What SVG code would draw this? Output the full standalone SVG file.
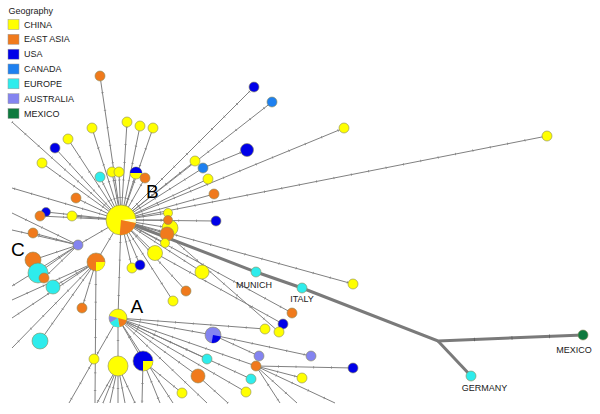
<svg xmlns="http://www.w3.org/2000/svg" xmlns:xlink="http://www.w3.org/1999/xlink" width="600" height="414" viewBox="0 0 600 414">
<style>
text{font-family:"Liberation Sans",Arial,sans-serif;fill:#1a1a1a}
.lg{font-size:9px}
.lbl{font-size:9px}
.big{font-size:19px;fill:#000}
circle{stroke:#8a8a5a;stroke-width:0.6}
.y{fill:#ffff00}
.o{fill:#f07a1c}
.u{fill:#0000e8}
.c{fill:#1e80f0}
.e{fill:#2eecec}
.a{fill:#8484f0}
.m{fill:#0e7a3e}
.sq{stroke:#999;stroke-width:0.5}
.w{stroke:none}
</style>
<rect width="600" height="414" fill="#fff"/>
<g id="legend">
<text class="lg" x="8.5" y="13.5">Geography</text>
<rect class="sq y" x="8" y="19.5" width="11" height="10"/><text class="lg" x="24" y="27.5">CHINA</text>
<rect class="sq o" x="8" y="34.3" width="11" height="10"/><text class="lg" x="24" y="42.3">EAST ASIA</text>
<rect class="sq u" x="8" y="49.2" width="11" height="10"/><text class="lg" x="24" y="57.2">USA</text>
<rect class="sq c" x="8" y="64" width="11" height="10"/><text class="lg" x="24" y="72">CANADA</text>
<rect class="sq e" x="8" y="78.8" width="11" height="10"/><text class="lg" x="24" y="86.8">EUROPE</text>
<rect class="sq a" x="8" y="93.7" width="11" height="10"/><text class="lg" x="24" y="101.7">AUSTRALIA</text>
<rect class="sq m" x="8" y="108.5" width="11" height="10"/><text class="lg" x="24" y="116.5">MEXICO</text>
</g>
<g id="connectors" stroke="#808080" stroke-width="1" fill="none">
<g id="E">
<line x1="121" y1="220" x2="100" y2="76"/>
<line x1="121" y1="220" x2="92" y2="128"/>
<line x1="121" y1="220" x2="68" y2="139"/>
<line x1="121" y1="220" x2="127" y2="122"/>
<line x1="121" y1="220" x2="140" y2="126"/>
<line x1="121" y1="220" x2="153" y2="128"/>
<line x1="121" y1="220" x2="42" y2="163"/>
<line x1="121" y1="220" x2="55" y2="148"/>
<line x1="121" y1="220" x2="100" y2="177"/>
<line x1="121" y1="220" x2="112" y2="172"/>
<line x1="121" y1="220" x2="119" y2="172"/>
<line x1="121" y1="220" x2="136" y2="173"/>
<line x1="121" y1="220" x2="145" y2="178"/>
<line x1="121" y1="220" x2="12" y2="122"/>
<line x1="121" y1="220" x2="12" y2="188"/>
<line x1="121" y1="220" x2="76" y2="198"/>
<line x1="121" y1="220" x2="46" y2="212"/>
<line x1="121" y1="220" x2="40" y2="216"/>
<line x1="121" y1="220" x2="72" y2="216"/>
<line x1="121" y1="220" x2="78" y2="245"/>
<line x1="121" y1="220" x2="96" y2="262"/>
<line x1="121" y1="220" x2="132" y2="268"/>
<line x1="121" y1="220" x2="140" y2="265"/>
<line x1="121" y1="220" x2="155" y2="253"/>
<line x1="121" y1="220" x2="186" y2="291"/>
<line x1="121" y1="220" x2="173" y2="301"/>
<line x1="121" y1="220" x2="118" y2="318"/>
<line x1="121" y1="220" x2="168" y2="213"/>
<line x1="121" y1="220" x2="168" y2="220"/>
<line x1="121" y1="220" x2="170" y2="228"/>
<line x1="121" y1="220" x2="167" y2="234"/>
<line x1="121" y1="220" x2="165" y2="243"/>
<line x1="121" y1="220" x2="195" y2="161"/>
<line x1="121" y1="220" x2="203" y2="168"/>
<line x1="121" y1="220" x2="208" y2="179"/>
<line x1="121" y1="220" x2="214" y2="194"/>
<line x1="121" y1="220" x2="216" y2="221"/>
<line x1="203" y1="168" x2="247" y2="150"/>
<line x1="121" y1="220" x2="254" y2="87"/>
<line x1="121" y1="220" x2="272" y2="102"/>
<line x1="121" y1="220" x2="344" y2="128"/>
<line x1="121" y1="220" x2="547" y2="136"/>
<line x1="121" y1="220" x2="353" y2="284"/>
<line x1="121" y1="220" x2="202" y2="272"/>
<line x1="121" y1="220" x2="292" y2="313"/>
<line x1="155" y1="253" x2="283" y2="324"/>
<line x1="167" y1="234" x2="279" y2="332"/>
<line x1="78" y1="245" x2="12" y2="213"/>
<line x1="78" y1="245" x2="12" y2="230"/>
<line x1="78" y1="245" x2="33" y2="233"/>
<line x1="78" y1="245" x2="33" y2="260"/>
<line x1="78" y1="245" x2="38" y2="273"/>
<line x1="78" y1="245" x2="44" y2="278"/>
<line x1="78" y1="245" x2="12" y2="286"/>
<line x1="96" y1="262" x2="53" y2="287"/>
<line x1="96" y1="262" x2="82" y2="308"/>
<line x1="96" y1="262" x2="12" y2="300"/>
<line x1="96" y1="262" x2="12" y2="318"/>
<line x1="96" y1="262" x2="12" y2="348"/>
<line x1="96" y1="262" x2="40" y2="341"/>
<line x1="96" y1="262" x2="95" y2="403"/>
<line x1="118" y1="318" x2="265" y2="329"/>
<line x1="118" y1="318" x2="213" y2="335"/>
<line x1="213" y1="335" x2="311" y2="356"/>
<line x1="213" y1="335" x2="259" y2="356"/>
<line x1="118" y1="318" x2="207" y2="359"/>
<line x1="118" y1="318" x2="256" y2="366"/>
<line x1="118" y1="318" x2="251" y2="379"/>
<line x1="118" y1="318" x2="246" y2="392"/>
<line x1="118" y1="318" x2="198" y2="376"/>
<line x1="118" y1="318" x2="173" y2="403"/>
<line x1="118" y1="318" x2="118" y2="366"/>
<line x1="118" y1="318" x2="143" y2="361"/>
<line x1="118" y1="318" x2="69" y2="403"/>
<line x1="118" y1="318" x2="207" y2="403"/>
<line x1="198" y1="376" x2="228" y2="403"/>
<line x1="256" y1="366" x2="353" y2="368"/>
<line x1="256" y1="366" x2="302" y2="378"/>
<line x1="256" y1="366" x2="280" y2="403"/>
<line x1="256" y1="366" x2="297" y2="403"/>
<line x1="256" y1="366" x2="335" y2="403"/>
<line x1="118" y1="366" x2="97" y2="403"/>
<line x1="118" y1="366" x2="103" y2="403"/>
<line x1="118" y1="366" x2="110" y2="403"/>
<line x1="118" y1="366" x2="118" y2="403"/>
<line x1="118" y1="366" x2="125" y2="403"/>
<line x1="118" y1="366" x2="135" y2="403"/>
<line x1="143" y1="361" x2="142" y2="403"/>
<line x1="143" y1="361" x2="160" y2="403"/>
<line x1="143" y1="361" x2="182" y2="393"/>
</g>
<use xlink:href="#E" href="#E" stroke-width="2.4" stroke-dasharray="0.7 17" stroke-dashoffset="-22"/>
<polyline id="thick" points="121,220 256,272 302,288 438,341 583,335" stroke="#7a7a7a" stroke-width="3"/>
<line x1="438" y1="341" x2="471" y2="376" stroke="#7a7a7a" stroke-width="3"/>
<polyline points="438,341 583,335" stroke="#555" stroke-width="3.6" stroke-dasharray="0.7 37" stroke-dashoffset="-36"/>
</g>
<g id="nodes">
<g id="n1"><circle class="o" cx="100" cy="76" r="5"/></g>
<g id="n2"><circle class="y" cx="92" cy="128" r="5"/></g>
<g id="n3"><circle class="y" cx="68" cy="139" r="5"/></g>
<g id="n4"><circle class="y" cx="127" cy="122" r="5"/></g>
<g id="n5"><circle class="y" cx="140" cy="126" r="5"/></g>
<g id="n6"><circle class="y" cx="153" cy="128" r="5"/></g>
<g id="n7"><circle class="y" cx="42" cy="163" r="5"/></g>
<g id="n8"><circle class="u" cx="55" cy="148" r="5"/></g>
<g id="n9"><circle class="e" cx="100" cy="177" r="5"/></g>
<g id="n10"><circle class="y" cx="112" cy="172" r="5"/></g>
<g id="n11"><circle class="y" cx="119" cy="172" r="5"/></g>
<g id="n12"><circle class="y" cx="136" cy="173" r="6"/><path class="u" d="M130,173 A6,6 0 0 1 142,173 Z"/></g>
<g id="n13"><circle class="o" cx="145" cy="178" r="5"/></g>
<g id="n14"><circle class="o" cx="76" cy="198" r="5"/></g>
<g id="n15"><circle class="u" cx="46" cy="212" r="4.5"/></g>
<g id="n16"><circle class="o" cx="40" cy="216" r="5"/></g>
<g id="n17"><circle class="y" cx="72" cy="216" r="5"/></g>
<g id="n18"><circle class="o" cx="33" cy="233" r="5"/></g>
<g id="n19"><circle class="o" cx="33" cy="260" r="8"/></g>
<g id="n20"><circle class="e" cx="38" cy="273" r="10"/></g>
<g id="n21"><circle class="o" cx="44" cy="278" r="5"/></g>
<g id="n22"><circle class="e" cx="53" cy="287" r="7"/></g>
<g id="nC"><circle class="a" cx="78" cy="245" r="5"/></g>
<g id="nP"><circle class="o" cx="96" cy="262" r="9"/><path class="y" style="stroke:none" d="M96,262 L105,262 A9,9 0 0 1 96,271 Z"/></g>
<g id="n23"><circle class="o" cx="82" cy="308" r="5"/></g>
<g id="n24"><circle class="e" cx="40" cy="341" r="8"/></g>
<g id="n25"><circle class="y" cx="132" cy="268" r="5"/></g>
<g id="n26"><circle class="u" cx="140" cy="265" r="5"/></g>
<g id="n27"><circle class="y" cx="155" cy="253" r="7.5"/></g>
<g id="n28"><circle class="o" cx="186" cy="291" r="5"/></g>
<g id="n29"><circle class="y" cx="173" cy="301" r="5"/></g>
<g id="n32"><circle class="y" cx="170" cy="228" r="8"/></g>
<g id="n30"><circle class="y" cx="168" cy="213" r="4.5"/></g>
<g id="n31"><circle class="o" cx="168" cy="220" r="4.5"/></g>
<g id="n33"><circle class="o" cx="167" cy="234" r="7"/></g>
<g id="n34"><circle class="y" cx="165" cy="243" r="4.5"/></g>
<g id="nB"><circle class="y" cx="121" cy="220" r="15"/><path class="w" fill="#ffffc8" d="M121,220 L135.94,218.69 A15,15 0 0 1 135.67,223.12 Z"/><path class="o w" d="M121,220 L135.67,223.12 A15,15 0 0 1 119.69,234.94 Z"/></g>
<g id="n35"><circle class="y" cx="195" cy="161" r="5"/></g>
<g id="n36"><circle class="c" cx="203" cy="168" r="5"/></g>
<g id="n37"><circle class="y" cx="208" cy="179" r="5"/></g>
<g id="n38"><circle class="o" cx="214" cy="194" r="5"/></g>
<g id="n39"><circle class="u" cx="216" cy="221" r="5"/></g>
<g id="n40"><circle class="u" cx="247" cy="150" r="6.5"/></g>
<g id="n41"><circle class="u" cx="254" cy="87" r="5"/></g>
<g id="n42"><circle class="c" cx="272" cy="102" r="5"/></g>
<g id="n43"><circle class="y" cx="344" cy="128" r="5"/></g>
<g id="n44"><circle class="y" cx="547" cy="136" r="5"/></g>
<g id="n45"><circle class="y" cx="353" cy="284" r="5"/></g>
<g id="n46"><circle class="y" cx="202" cy="272" r="7"/></g>
<g id="n47"><circle class="o" cx="292" cy="313" r="5"/></g>
<g id="munich"><circle class="e" cx="256" cy="272" r="5"/><text class="lbl" x="254" y="288" text-anchor="middle">MUNICH</text></g>
<g id="italy"><circle class="e" cx="302" cy="288" r="5"/><text class="lbl" x="302" y="302" text-anchor="middle">ITALY</text></g>
<g id="mexico"><circle class="m" cx="583" cy="335" r="5"/><text class="lbl" x="574" y="353" text-anchor="middle">MEXICO</text></g>
<g id="germany"><circle class="e" cx="471" cy="376" r="5"/><text class="lbl" x="484.5" y="391" text-anchor="middle">GERMANY</text></g>
<g id="n48"><circle class="u" cx="283" cy="324" r="5"/></g>
<g id="n49"><circle class="y" cx="279" cy="332" r="5"/></g>
<g id="n50"><circle class="y" cx="265" cy="329" r="5"/></g>
<g id="n51"><circle class="a" cx="213" cy="335" r="8"/><path class="u w" d="M213,335 L220.88,336.39 A8,8 0 0 1 211.61,342.88 Z"/></g>
<g id="n52"><circle class="a" cx="259" cy="356" r="5"/></g>
<g id="n53"><circle class="a" cx="311" cy="356" r="5"/></g>
<g id="n54"><circle class="e" cx="207" cy="359" r="5"/></g>
<g id="n55"><circle class="o" cx="198" cy="376" r="7"/></g>
<g id="n56"><circle class="o" cx="256" cy="366" r="5"/></g>
<g id="n57"><circle class="u" cx="353" cy="368" r="5"/></g>
<g id="n58"><circle class="y" cx="302" cy="378" r="5"/></g>
<g id="n59"><circle class="e" cx="251" cy="379" r="5"/></g>
<g id="n60"><circle class="y" cx="246" cy="392" r="5"/></g>
<g id="n61"><circle class="y" cx="182" cy="393" r="5"/></g>
<g id="n62"><circle class="y" cx="118" cy="366" r="10"/></g>
<g id="n63"><circle class="u" cx="143" cy="361" r="10"/><path class="y w" d="M143,361 L153,361 A10,10 0 0 1 143,371 Z"/></g>
<g id="n64"><circle class="y" cx="94" cy="359" r="5"/></g>
<g id="nA"><circle class="y" cx="118" cy="318" r="9"/><path class="o w" d="M118,318 L126.69,320.33 A9,9 0 0 1 119.56,326.86 Z"/><path class="e w" d="M118,318 L119.56,326.86 A9,9 0 0 1 110.21,322.5 Z"/><path class="a w" d="M118,318 L110.21,322.5 A9,9 0 0 1 109.31,315.67 Z"/></g>
</g>
<g id="labels">
<text class="big" x="146" y="198">B</text>
<text class="big" x="130.5" y="313">A</text>
<text class="big" x="11" y="256">C</text>
</g>
</svg>
